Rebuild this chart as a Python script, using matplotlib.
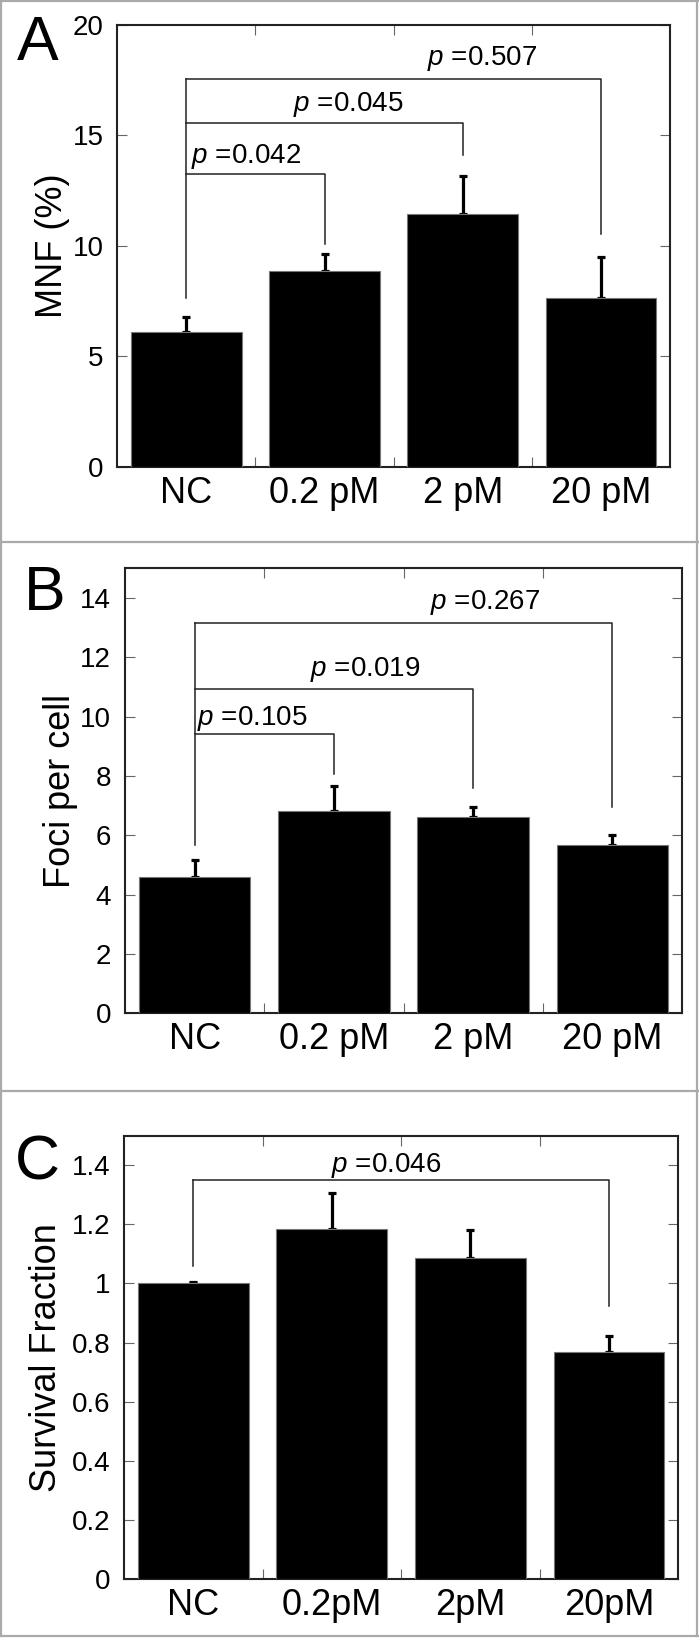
import matplotlib
matplotlib.use('Agg')
import matplotlib.pyplot as plt
from matplotlib.lines import Line2D

plt.rcParams['font.family'] = ['Liberation Sans', 'DejaVu Sans']
plt.rcParams['mathtext.fontset'] = 'custom'
plt.rcParams['mathtext.it'] = 'Liberation Sans:italic'
plt.rcParams['mathtext.rm'] = 'Liberation Sans'

# ---- data ----
# A: micronucleus frequency
groups_ab = ['NC', '0.2 pM', '2 pM', '20 pM']
mnf = [6.1, 8.85, 11.45, 7.63]
mnf_err = [0.67, 0.78, 1.73, 1.87]
p_mnf = ['0.042', '0.045', '0.507']

# B: foci per cell
foci = [4.58, 6.82, 6.61, 5.66]
foci_err = [0.58, 0.84, 0.35, 0.34]
p_foci = ['0.105', '0.019', '0.267']

# C: survival fraction
groups_c = ['NC', '0.2pM', '2pM', '20pM']
survival = [1.0, 1.185, 1.086, 0.769]
survival_err = [0.005, 0.121, 0.095, 0.052]
p_surv = ['0.046']

W, H = 699, 1638
fig = plt.figure(figsize=(W / 100, H / 100), dpi=100)


def px_axes(l, t, r, b):
    return fig.add_axes([l / W, 1 - b / H, (r - l) / W, (b - t) / H])


def panel(ax, names, vals, errs, ymax, yticks, ylabel, label_x,
          start_y, brackets, pvals, text_pos):
    x = range(len(vals))
    ax.bar(x, vals, width=0.8, color='black', edgecolor='#777777',
           linewidth=0.8, zorder=3)
    ax.errorbar(x, vals, yerr=[[0] * len(errs), errs], fmt='none',
                ecolor='black', elinewidth=2.3, capsize=3, capthick=2.3,
                zorder=2)
    ax.set_xlim(-0.5, len(vals) - 0.5)
    ax.set_ylim(0, ymax)
    ax.set_yticks(yticks)
    ax.set_yticklabels(['{:g}'.format(v) for v in yticks], fontsize=20)
    ax.set_xticks(list(x))
    ax.set_xticklabels(names, fontsize=26)
    ax.set_xticks([i + 0.5 for i in range(len(vals) - 1)], minor=True)
    ax.tick_params(axis='x', which='major', length=0, pad=6.5)
    ax.tick_params(axis='x', which='minor', direction='in', length=7,
                   width=0.8, color='#666666', top=True, bottom=True)
    ax.tick_params(axis='y', direction='in', length=7, width=0.8,
                   color='#666666', left=True, right=True, pad=10)
    for s in ax.spines.values():
        s.set_linewidth(1.5)
        s.set_color('#222222')
    ax.set_ylabel(ylabel, fontsize=26)
    ax.yaxis.set_label_coords(label_x, 0.5)

    # significance brackets from NC to each group
    top = max(b[1] for b in brackets)
    ax.plot([0, 0], [start_y, top], color='#222222', lw=1.1, zorder=4)
    for (j, h, drop), p, (tx, ty) in zip(brackets, pvals, text_pos):
        ax.plot([0, j, j], [h, h, drop], color='#222222', lw=1.1, zorder=4)
        ax.text(tx, ty, r'$p$ =' + p, fontsize=20, ha='center',
                va='baseline')


axA = px_axes(117.3, 25, 670, 466.7)
panel(axA, groups_ab, mnf, mnf_err, 20, [0, 5, 10, 15, 20], 'MNF (%)', -0.085,
      7.63, [(1, 13.26, 10.09), (2, 15.57, 14.11), (3, 17.57, 10.52)],
      p_mnf, [(0.433, 13.76), (1.168, 16.1), (2.14, 18.21)])

axB = px_axes(125, 568.4, 682.1, 1013.3)
panel(axB, groups_ab, foci, foci_err, 15, [0, 2, 4, 6, 8, 10, 12, 14],
      'Foci per cell', -0.085,
      5.68, [(1, 9.40, 8.06), (2, 10.94, 7.60), (3, 13.17, 6.96)],
      p_foci, [(0.416, 9.71), (1.226, 11.37), (2.088, 13.63)])

axC = px_axes(124, 1135.7, 678.3, 1579)
panel(axC, groups_c, survival, survival_err, 1.5,
      [0, 0.2, 0.4, 0.6, 0.8, 1.0, 1.2, 1.4], 'Survival Fraction', -0.109,
      1.06, [(3, 1.351, 0.925)], p_surv, [(1.389, 1.377)])

# panel letters
for letter, lx, ly in [('A', 17, 60), ('B', 23.5, 610), ('C', 15, 1179)]:
    fig.text(lx / W, 1 - ly / H, letter, fontsize=45, ha='left',
             va='baseline')

# grey frames around the panels
frame = dict(color='#aaaaaa', lw=1.6, transform=fig.transFigure)
for yy in [1.2, 541.7, 1091, 1636.3]:
    fig.add_artist(Line2D([0, 1], [1 - yy / H, 1 - yy / H], **frame))
for xx in [1.2, 697.3]:
    fig.add_artist(Line2D([xx / W, xx / W], [1 - 1636.3 / H, 1 - 1.2 / H],
                          **frame))

fig.savefig('out.png', dpi=100)
